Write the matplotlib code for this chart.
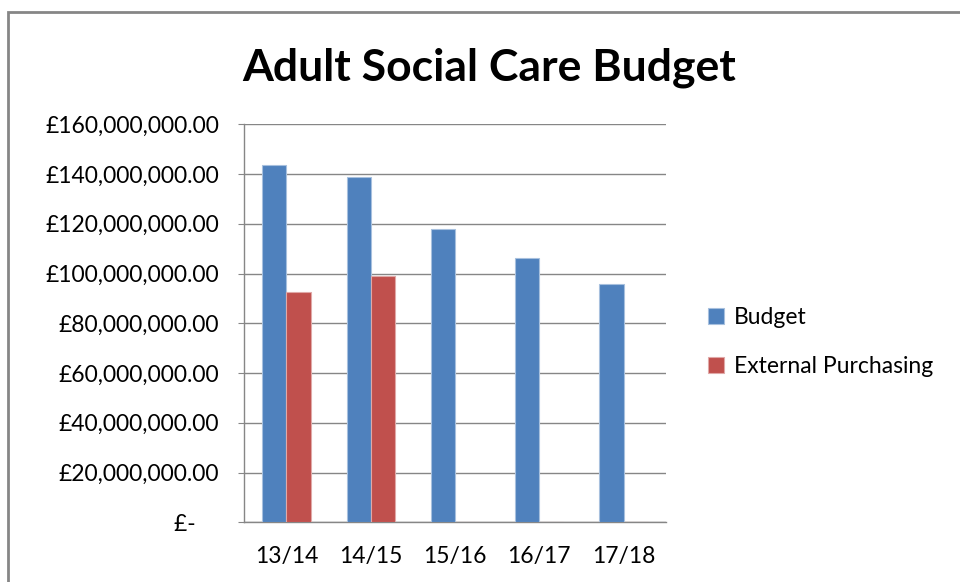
import matplotlib
matplotlib.use("Agg")
import matplotlib.pyplot as plt
import numpy as np
from matplotlib.patches import Rectangle
from matplotlib.ticker import FuncFormatter, MultipleLocator

categories = ["13/14", "14/15", "15/16", "16/17", "17/18"]
budget = [143.6e6, 138.9e6, 117.9e6, 106.1e6, 95.7e6]
external = [92.6e6, 98.9e6, np.nan, np.nan, np.nan]
series_names = ["Budget", "External Purchasing"]
title = "Adult Social Care Budget"

FONT = ["Lato", "DejaVu Sans"]
plt.rcParams['font.family'] = FONT

fig = plt.figure(figsize=(9.6, 5.82), dpi=100)
W, H = 960, 582
ax = fig.add_axes([244.3 / W, 1 - 522.3 / H, (665.7 - 244.3) / W, (522.3 - 124.3) / H])

x = np.arange(len(categories))
bw = 0.2857
blue = "#4f81bd"
red = "#c0504d"
ax.bar(x - bw / 2, budget, bw, color=blue, edgecolor="#a7c0de", linewidth=0.8, label=series_names[0], zorder=3)
ax.bar(x + bw / 2, np.nan_to_num(external), bw, color=red, edgecolor="#e0a9a8", linewidth=0.8, label=series_names[1], zorder=3)

ax.set_xlim(-0.5, len(categories) - 0.5)
ax.set_ylim(0, 160e6)
ax.yaxis.set_major_locator(MultipleLocator(20e6))


def fmt(v, pos):
    if v == 0:
        return "£-    "
    return "£{:,.2f}".format(v)


ax.yaxis.set_major_formatter(FuncFormatter(fmt))
ax.set_xticks(x)
ax.set_xticklabels(categories)
ax.grid(axis="y", color="#868686", linewidth=1.0, zorder=0)
for s in ["top", "right"]:
    ax.spines[s].set_visible(False)
for s in ["left", "bottom"]:
    ax.spines[s].set_color("#868686")
    ax.spines[s].set_linewidth(1.0)
ax.tick_params(axis="y", length=4, color="#868686", pad=14, labelsize=16.5, labelcolor="#000000")
ax.tick_params(axis="x", length=0, pad=17, labelsize=16.5, labelcolor="#000000")

fig.text(489 / W, 1 - 80 / H, title, ha="center", va="baseline", fontsize=32, fontweight="bold")

handles, labels = ax.get_legend_handles_labels()
leg = fig.legend(handles, labels, loc="center left", bbox_to_anchor=(687 / W, 1 - 342 / H),
                 frameon=False, fontsize=16.5, handlelength=0.7, handleheight=0.7,
                 handletextpad=0.45, labelspacing=1.2)

fig.patches.append(Rectangle((8 / W, -0.1), 1.2, 1 - 12 / H + 0.1, transform=fig.transFigure,
                             fill=False, edgecolor="#868686", linewidth=2.0))

fig.savefig("out.png", dpi=100)
